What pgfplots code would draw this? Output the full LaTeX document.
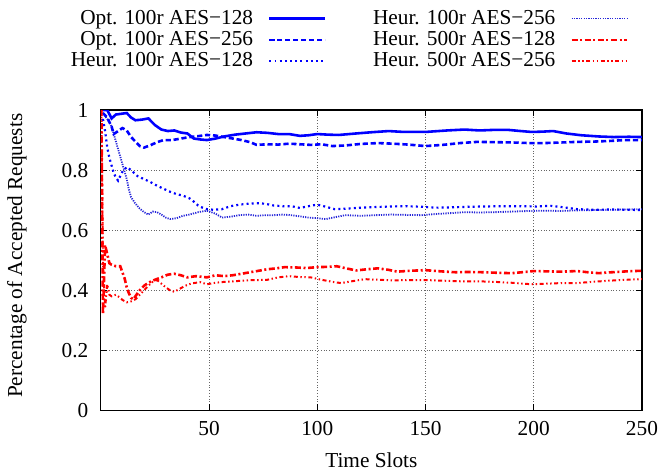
\documentclass[border=0pt]{standalone}
\usepackage{pgfplots}
\pgfplotsset{compat=1.18}
\usepackage{fontspec}
\setmainfont{Liberation Serif}
\begin{document}
\fontsize{10.7pt}{12.8pt}\selectfont
\begin{tikzpicture}
\begin{axis}[
  scale only axis, width=272pt, height=151pt,
  xmin=0, xmax=250, ymin=0, ymax=1,
  xtick={50,100,150,200,250},
  ytick={0,0.2,0.4,0.6,0.8,1},
  yticklabels={0,0.2,0.4,0.6,0.8,1},
  /pgf/number format/assume math mode=true,
  tick align=inside, major tick length=3pt,
  tick style={black, line width=0.5pt},
  axis line style={line width=0.6pt},
  grid=major, grid style={densely dotted, black!60, line width=0.4pt},
  xlabel={Time Slots}, ylabel={Percentage of Accepted Requests},
  xlabel style={at={(axis description cs:0.5,0)}, anchor=center, yshift=-25pt},
  ylabel style={at={(axis description cs:-0.155,0.515)}, anchor=center},
  yticklabel style={xshift=-2.5pt},
  xticklabel style={yshift=-1.5pt},
  legend columns=2, legend cell align=right, legend plot pos=right,
  legend image code/.code={\draw[#1] (0pt,0pt) -- (28pt,0pt);},
  legend style={draw=none, fill=none, inner xsep=0pt, inner ysep=4pt, row sep=0pt,
    at={(axis description cs:1,1)}, anchor=south east, xshift=-6.5pt, yshift=15pt,
    nodes={inner xsep=0pt, inner ysep=0pt, text height=8.1pt, text depth=2.6pt},
    /tikz/every odd column/.append style={column sep=7.5pt},
    /tikz/every even column/.append style={column sep=23.5pt}},
]
% Opt. 100r AES-128
\addplot[blue, line width=1.3pt] coordinates {
(1,1.0) (3,1.0) (5,0.972) (7,0.985) (10,0.988) (12,0.99) (14,0.975) (16,0.966) (19,0.968) (22,0.972) (25,0.95) (28,0.935) (31,0.93) (34,0.932) (37,0.925) (40,0.922) (43,0.905) (46,0.902) (49,0.9) (53,0.905) (57,0.912) (62,0.918) (67,0.922) (72,0.926) (77,0.924) (82,0.92) (87,0.92) (92,0.914) (96,0.916) (100,0.92) (105,0.918) (110,0.917) (118,0.922) (125,0.926) (133,0.93) (140,0.927) (150,0.927) (160,0.932) (168,0.935) (175,0.932) (182,0.934) (188,0.934) (194,0.93) (199,0.927) (204,0.928) (209,0.93) (215,0.922) (222,0.916) (230,0.912) (237,0.91) (244,0.911) (250,0.91)
};
\addlegendentry{Opt. 100r AES−128}
% Heur. 100r AES-256
\addplot[blue!70!gray, line width=0.9pt, dash pattern=on 0.6pt off 0.6pt] coordinates {
(1,0.99) (3,0.97) (5,0.945) (6,0.92) (7,0.895) (8,0.87) (9,0.845) (10,0.82) (11,0.795) (12,0.77) (13,0.735) (14,0.71) (16,0.688) (18,0.672) (20,0.66) (22,0.652) (24,0.662) (26,0.66) (28,0.652) (30,0.642) (32,0.637) (35,0.64) (38,0.648) (41,0.652) (45,0.66) (49,0.665) (53,0.655) (56,0.642) (60,0.645) (64,0.65) (68,0.652) (72,0.648) (76,0.65) (80,0.65) (84,0.652) (88,0.65) (92,0.646) (96,0.642) (100,0.64) (104,0.637) (108,0.643) (113,0.65) (120,0.648) (127,0.65) (134,0.652) (141,0.651) (148,0.65) (155,0.654) (162,0.657) (168,0.66) (175,0.659) (182,0.66) (190,0.662) (198,0.664) (205,0.665) (212,0.664) (220,0.666) (228,0.667) (236,0.668) (243,0.669) (250,0.67)
};
\addlegendentry{Heur. 100r AES−256}
% Opt. 100r AES-256
\addplot[blue, line width=1.3pt, dash pattern=on 2.6pt off 1.4pt] coordinates {
(1,0.99) (3,0.975) (5,0.945) (6,0.92) (8,0.93) (10,0.94) (12,0.932) (14,0.91) (16,0.895) (18,0.88) (20,0.875) (23,0.883) (26,0.893) (29,0.9) (33,0.9) (37,0.905) (41,0.91) (45,0.913) (49,0.917) (53,0.915) (57,0.91) (61,0.905) (65,0.9) (69,0.893) (72,0.884) (77,0.886) (82,0.885) (87,0.888) (92,0.886) (97,0.884) (102,0.886) (107,0.88) (113,0.882) (120,0.887) (128,0.89) (135,0.888) (142,0.885) (150,0.88) (158,0.884) (166,0.89) (174,0.894) (182,0.893) (190,0.892) (198,0.89) (205,0.89) (213,0.892) (220,0.894) (228,0.895) (235,0.897) (242,0.9) (250,0.9)
};
\addlegendentry{Opt. 100r AES−256}
% Heur. 500r AES-128
\addplot[red, line width=1.3pt, dash pattern=on 3pt off 1.3pt on 1pt off 1.3pt] coordinates {
(0.3,1.0) (1,0.32) (2,0.55) (3,0.52) (4,0.49) (5,0.485) (7,0.48) (9,0.48) (10,0.46) (11,0.44) (12,0.41) (13,0.39) (14,0.375) (15,0.37) (16,0.38) (18,0.40) (20,0.415) (22,0.425) (25,0.435) (28,0.443) (31,0.452) (34,0.455) (37,0.45) (40,0.443) (44,0.447) (49,0.443) (53,0.45) (57,0.447) (61,0.45) (65,0.455) (69,0.46) (73,0.465) (77,0.47) (81,0.473) (85,0.477) (90,0.476) (95,0.474) (100,0.477) (105,0.478) (109,0.48) (114,0.472) (118,0.466) (123,0.47) (128,0.473) (133,0.468) (137,0.462) (143,0.465) (150,0.467) (157,0.463) (164,0.46) (170,0.461) (177,0.46) (184,0.458) (190,0.457) (196,0.461) (200,0.464) (206,0.463) (213,0.462) (220,0.464) (225,0.46) (230,0.457) (236,0.46) (243,0.463) (250,0.465)
};
\addlegendentry{Heur. 500r AES−128}
% Heur. 100r AES-128
\addplot[blue, line width=1.1pt, dash pattern=on 1pt off 1.6pt] coordinates {
(1,0.97) (2,0.93) (3,0.875) (4,0.84) (5,0.815) (6,0.79) (7,0.775) (8,0.765) (9,0.78) (10,0.795) (12,0.81) (14,0.8) (17,0.78) (20,0.77) (23,0.76) (26,0.748) (29,0.738) (32,0.728) (35,0.72) (38,0.715) (41,0.706) (43,0.695) (45,0.682) (47,0.675) (49,0.67) (52,0.668) (56,0.67) (60,0.68) (64,0.685) (68,0.688) (72,0.69) (76,0.688) (80,0.682) (84,0.68) (88,0.68) (92,0.674) (96,0.68) (100,0.685) (104,0.678) (108,0.67) (114,0.672) (120,0.675) (127,0.677) (134,0.679) (141,0.68) (148,0.678) (155,0.675) (162,0.676) (170,0.678) (178,0.679) (186,0.68) (194,0.68) (201,0.679) (208,0.681) (214,0.676) (220,0.67) (228,0.668) (236,0.669) (243,0.668) (250,0.667)
};
\addlegendentry{Heur. 100r AES−128}
% Heur. 500r AES-256
\addplot[red, line width=1.0pt, dash pattern=on 2pt off 1.3pt on 0.7pt off 1.3pt on 0.7pt off 1.3pt] coordinates {
(0.3,1.0) (1,0.5) (2,0.34) (3,0.42) (4,0.385) (5,0.38) (7,0.385) (9,0.375) (10,0.368) (12,0.36) (14,0.363) (16,0.37) (18,0.385) (20,0.40) (22,0.415) (24,0.428) (26,0.434) (28,0.422) (30,0.41) (32,0.4) (34,0.395) (36,0.403) (39,0.415) (42,0.423) (46,0.427) (49,0.42) (53,0.425) (57,0.428) (62,0.43) (67,0.433) (72,0.434) (77,0.435) (82,0.443) (87,0.447) (92,0.444) (97,0.443) (102,0.435) (107,0.428) (111,0.424) (116,0.43) (122,0.437) (128,0.435) (135,0.433) (142,0.434) (150,0.434) (158,0.432) (166,0.43) (174,0.43) (182,0.428) (190,0.425) (199,0.42) (206,0.422) (213,0.424) (220,0.424) (227,0.428) (235,0.432) (243,0.435) (250,0.437)
};
\addlegendentry{Heur. 500r AES−256}
\end{axis}
\end{tikzpicture}
\end{document}
